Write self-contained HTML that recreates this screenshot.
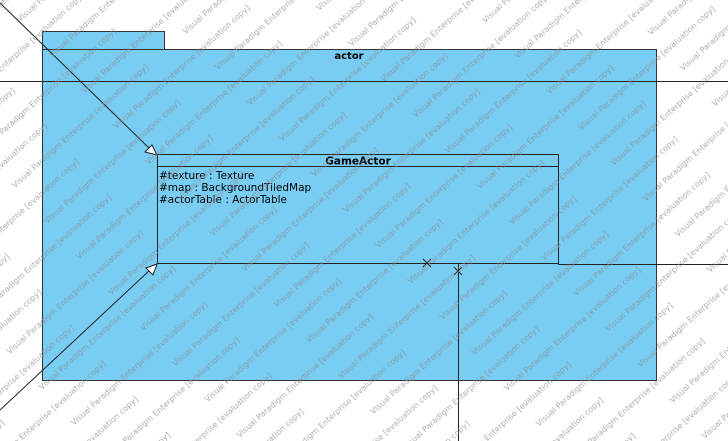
<!DOCTYPE html>
<html><head><meta charset="utf-8"><style>
html,body{margin:0;padding:0;background:#fff;width:728px;height:441px;overflow:hidden}
svg{display:block}
text{font-family:"DejaVu Sans","Liberation Sans",sans-serif}
</style></head><body>
<svg width="728" height="441" viewBox="0 0 728 441" xmlns="http://www.w3.org/2000/svg">
<defs>
<pattern id="wm" patternUnits="userSpaceOnUse" width="230" height="48" patternTransform="rotate(-42)">
<text x="0" y="30" font-size="8" fill="#8a8a8a" fill-opacity="0.7">Visual Paradigm Enterprise [evaluation copy]</text>
<text x="-115" y="6" font-size="8" fill="#8a8a8a" fill-opacity="0.7">Visual Paradigm Enterprise [evaluation copy]</text>
<text x="115" y="6" font-size="8" fill="#8a8a8a" fill-opacity="0.7">Visual Paradigm Enterprise [evaluation copy]</text>
</pattern>
</defs>
<rect x="42.5" y="31.5" width="122" height="18" fill="#79cdf3" stroke="#333" stroke-width="1"/>
<rect x="42.5" y="49.5" width="614" height="331" fill="#79cdf3" stroke="#333" stroke-width="1"/>
<text x="349" y="59" font-size="10" font-weight="bold" text-anchor="middle" fill="#000">actor</text>
<line x1="0" y1="81.5" x2="728" y2="81.5" stroke="#222"/>
<rect x="157.5" y="154.5" width="401" height="109" fill="none" stroke="#222"/>
<line x1="157.5" y1="166.5" x2="558.5" y2="166.5" stroke="#222"/>
<text x="358" y="164.5" font-size="10.5" font-weight="bold" text-anchor="middle">GameActor</text>
<text x="159" y="179" font-size="10.5">#texture : Texture</text>
<text x="159" y="191" font-size="10.5">#map : BackgroundTiledMap</text>
<text x="159" y="203" font-size="10.5">#actorTable : ActorTable</text>
<line x1="558" y1="264.5" x2="728" y2="264.5" stroke="#222"/>
<line x1="458.5" y1="264" x2="458.5" y2="441" stroke="#222"/>
<line x1="0" y1="3" x2="150" y2="149" stroke="#222"/>
<polygon points="157,155 145,152 152,145" fill="#fff" stroke="#222"/>
<line x1="0" y1="410" x2="150" y2="270" stroke="#222"/>
<polygon points="157,264 153,275 146,268" fill="#fff" stroke="#222"/>
<path d="M423,259 L431,267 M431,259 L423,267" stroke="#222"/>
<path d="M454,267 L462,275 M462,267 L454,275" stroke="#222"/>
<rect x="0" y="0" width="728" height="441" fill="url(#wm)"/>
</svg>
</body></html>
